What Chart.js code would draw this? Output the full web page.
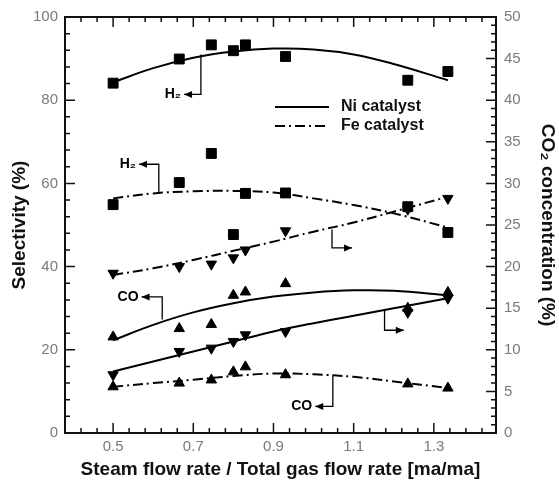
<!DOCTYPE html>
<html>
<head>
<meta charset="utf-8">
<script src="https://cdn.jsdelivr.net/npm/chart.js@4/dist/chart.umd.min.js"></script>
<style>
  html, body { margin: 0; padding: 0; background: #fff; }
  canvas { display: block; }
</style>
</head>
<body>
<canvas id="chart" width="559" height="483"></canvas>
<script>
// Steam flow rate / total gas flow rate of each run
const steamRatio = [0.5, 0.665, 0.745, 0.8, 0.83, 0.93, 1.235, 1.335];

// Selectivity (%), left axis
const niH2 = [84.1, 89.9, 93.3, 91.9, 93.3, 90.5, 84.8, 86.9];
const feH2 = [54.9, 60.2, 67.2, 47.7, 57.6, 57.7, 54.4, 48.2];
const niCO = [23.1, 25.1, 26.1, 33.1, 33.9, 35.9, 30.0, 33.8];
const feCO = [11.1, 12.0, 12.75, 14.7, 15.9, 14.0, 11.8, 10.8];

// CO2 concentration (%), right axis
const niCO2 = [7.0, 9.8, 10.2, 11.0, 11.8, 12.2, 14.5, 16.2];
const feCO2 = [19.2, 20.0, 20.3, 21.05, 22.0, 24.3, 26.9, 28.2];

// Trend curves
const trendRatio = [0.5, 0.6, 0.7, 0.8, 0.9, 1.0, 1.1, 1.2, 1.335];
const niH2Trend  = [84.3, 87.7, 90.2, 91.7, 92.4, 92.2, 91.0, 88.7, 84.8];
const feH2Trend  = [56.4, 57.6, 58.1, 58.2, 57.8, 56.4, 54.8, 52.8, 49.4];
const niCOTrend  = [22.3, 26.0, 29.0, 31.2, 32.8, 33.8, 34.3, 34.2, 33.1];
const feCOTrend  = [11.1, 12.0, 12.8, 13.7, 14.3, 14.1, 13.5, 12.4, 10.8];
const niCO2Trend = [7.4, 8.6, 9.8, 11.0, 12.2, 13.2, 14.1, 15.0, 16.2];
const feCO2Trend = [19.0, 19.8, 20.8, 21.9, 23.0, 24.2, 25.3, 26.6, 28.4];

// Axis tick labels
const ratioTicks = [0.5, 0.7, 0.9, 1.1, 1.3];
const selectivityTicks = [0, 20, 40, 60, 80, 100];
const co2Ticks = [0, 5, 10, 15, 20, 25, 30, 35, 40, 45, 50];

const FONT = "'Liberation Sans', Arial, Helvetica, sans-serif";
Chart.defaults.font.family = FONT;

const pairs = (xs, ys) => xs.map((x, i) => ({ x, y: ys[i] }));
const DASH_DOT = [10, 4, 2, 4];

function curve(data, axis, dash) {
  return {
    type: 'line', data: pairs(trendRatio, data), yAxisID: axis,
    borderColor: '#000', borderWidth: 2, borderDash: dash,
    pointRadius: 0, tension: 0.4, fill: false, order: 2
  };
}
function markers(data, axis, style, rotation) {
  return {
    type: 'scatter', data: pairs(steamRatio, data), yAxisID: axis,
    pointStyle: style, pointRotation: rotation || 0,
    pointRadius: style === 'rect' ? 7 : 6, pointHoverRadius: style === 'rect' ? 7 : 6,
    pointBackgroundColor: '#000', pointBorderColor: '#000', pointBorderWidth: 1,
    showLine: false, order: 1
  };
}

// Leader lines with arrow heads (data coordinates on the selectivity axis)
const leaders = [
  { label: 'H\u2082', path: [[0.719, 91.0], [0.719, 81.4], [0.677, 81.4]] },
  { label: 'H\u2082', path: [[0.614, 57.6], [0.614, 64.6], [0.5645, 64.6]] },
  { label: 'CO',      path: [[0.6225, 27.3], [0.6225, 32.7], [0.571, 32.7]] },
  { label: '',        path: [[1.046, 48.9], [1.046, 44.5], [1.096, 44.5]] },
  { label: '',        path: [[1.177, 29.5], [1.177, 24.7], [1.225, 24.7]] },
  { label: 'CO',      path: [[1.048, 13.9], [1.048, 6.4], [1.004, 6.4]] }
];

const leaderPlugin = {
  id: 'leaders',
  afterDatasetsDraw(chart) {
    const { ctx, scales: { x, y } } = chart;
    ctx.save();
    ctx.strokeStyle = '#000';
    ctx.fillStyle = '#000';
    ctx.lineWidth = 1.3;
    leaders.forEach(l => {
      const pts = l.path.map(p => [x.getPixelForValue(p[0]), y.getPixelForValue(p[1])]);
      ctx.beginPath();
      pts.forEach((p, i) => i ? ctx.lineTo(p[0], p[1]) : ctx.moveTo(p[0], p[1]));
      ctx.stroke();
      const a = pts[pts.length - 2], b = pts[pts.length - 1];
      const dir = Math.sign(b[0] - a[0]);
      ctx.beginPath();
      ctx.moveTo(b[0], b[1]);
      ctx.lineTo(b[0] - dir * 8, b[1] - 3.5);
      ctx.lineTo(b[0] - dir * 8, b[1] + 3.5);
      ctx.closePath();
      ctx.fill();
      if (l.label) {
        ctx.font = 'bold 14px ' + FONT;
        ctx.textAlign = dir < 0 ? 'right' : 'left';
        ctx.textBaseline = 'middle';
        ctx.fillText(l.label, b[0] + dir * 3, b[1]);
      }
    });
    ctx.restore();
  }
};

// Legend drawn inside the plot area
const legendPlugin = {
  id: 'innerLegend',
  afterDatasetsDraw(chart) {
    const { ctx, chartArea: ca } = chart;
    const x0 = ca.left + 210, x1 = ca.left + 264, tx = ca.left + 276;
    const rows = [
      { text: 'Ni catalyst', dash: [], y: ca.top + 90 },
      { text: 'Fe catalyst', dash: DASH_DOT, y: ca.top + 109 }
    ];
    ctx.save();
    ctx.strokeStyle = '#000';
    ctx.fillStyle = '#111';
    ctx.lineWidth = 2;
    ctx.font = 'bold 16px ' + FONT;
    ctx.textBaseline = 'middle';
    ctx.textAlign = 'left';
    rows.forEach(r => {
      ctx.setLineDash(r.dash);
      ctx.beginPath();
      ctx.moveTo(x0, r.y);
      ctx.lineTo(x1, r.y);
      ctx.stroke();
      ctx.fillText(r.text, tx, r.y);
    });
    ctx.restore();
  }
};

// Plot frame with inward tick marks on all four sides
const framePlugin = {
  id: 'frame',
  afterDraw(chart) {
    const { ctx, chartArea: ca, scales: { x, y, y2 } } = chart;
    const MAJOR = 10, MINOR = 5;
    const isMajor = (v, list) => list.some(t => Math.abs(t - v) < 1e-6);
    ctx.save();
    ctx.strokeStyle = '#111';
    ctx.lineWidth = 1.5;
    ctx.beginPath();
    for (let k = 0; ; k++) {
      const v = 0.38 + 0.04 * k;
      if (v > x.max + 1e-9) break;
      const len = isMajor(v, ratioTicks) ? MAJOR : MINOR;
      const px = x.getPixelForValue(v);
      ctx.moveTo(px, ca.bottom); ctx.lineTo(px, ca.bottom - len);
      ctx.moveTo(px, ca.top); ctx.lineTo(px, ca.top + len);
    }
    for (let v = 0; v <= 100; v += 4) {
      const len = isMajor(v, selectivityTicks) ? MAJOR : MINOR;
      const py = y.getPixelForValue(v);
      ctx.moveTo(ca.left, py); ctx.lineTo(ca.left + len, py);
    }
    for (let v = 0; v <= 50; v += 1) {
      const len = isMajor(v, co2Ticks) ? MAJOR : MINOR;
      const py = y2.getPixelForValue(v);
      ctx.moveTo(ca.right, py); ctx.lineTo(ca.right - len, py);
    }
    ctx.stroke();
    ctx.lineWidth = 2;
    ctx.strokeRect(ca.left, ca.top, ca.right - ca.left, ca.bottom - ca.top);
    ctx.restore();
  }
};

const tickFont = { size: 15 };
const tickColor = '#7a7a7a';
const titleFont = { size: 19, weight: 'bold' };

new Chart(document.getElementById('chart'), {
  data: {
    datasets: [
      curve(niH2Trend, 'y', []),
      curve(feH2Trend, 'y', DASH_DOT),
      curve(niCOTrend, 'y', []),
      curve(feCOTrend, 'y', DASH_DOT),
      curve(niCO2Trend, 'y2', []),
      curve(feCO2Trend, 'y2', DASH_DOT),
      markers(niH2, 'y', 'rect'),
      markers(feH2, 'y', 'rect'),
      markers(niCO, 'y', 'triangle'),
      markers(feCO, 'y', 'triangle'),
      markers(niCO2, 'y2', 'triangle', 180),
      markers(feCO2, 'y2', 'triangle', 180)
    ]
  },
  options: {
    responsive: false,
    animation: false,
    events: [],
    layout: { padding: { top: 15, left: 0, right: 0, bottom: 0 } },
    plugins: { legend: { display: false }, tooltip: { enabled: false } },
    scales: {
      x: {
        type: 'linear', min: 0.38, max: 1.455,
        grid: { display: false, drawTicks: false }, border: { display: false },
        afterBuildTicks: s => { s.ticks = ratioTicks.map(v => ({ value: v })); },
        afterFit: s => { s.height = 50; },
        ticks: { font: tickFont, color: tickColor, padding: 5, maxRotation: 0, autoSkip: false,
                 callback: v => Number(v).toFixed(1) },
        title: { display: true, text: 'Steam flow rate / Total gas flow rate [ma/ma]',
                 font: titleFont, color: '#111', padding: { top: 0, bottom: 1.6 } }
      },
      y: {
        type: 'linear', position: 'left', min: 0, max: 100,
        grid: { display: false, drawTicks: false }, border: { display: false },
        afterBuildTicks: s => { s.ticks = selectivityTicks.map(v => ({ value: v })); },
        afterFit: s => { s.width = 65; },
        ticks: { font: tickFont, color: tickColor, padding: 7 },
        title: { display: true, text: 'Selectivity (%)', font: titleFont, color: '#111',
                 padding: { top: 8.6, bottom: 0 } }
      },
      y2: {
        type: 'linear', position: 'right', min: 0, max: 50,
        grid: { display: false, drawTicks: false }, border: { display: false },
        afterBuildTicks: s => { s.ticks = co2Ticks.map(v => ({ value: v })); },
        afterFit: s => { s.width = 63; },
        ticks: { font: tickFont, color: tickColor, padding: 8 },
        title: { display: true, text: 'CO\u2082 concentration (%)', font: titleFont, color: '#111',
                 padding: { top: 0.6, bottom: 0 } }
      }
    }
  },
  plugins: [leaderPlugin, legendPlugin, framePlugin]
});
</script>
</body>
</html>
